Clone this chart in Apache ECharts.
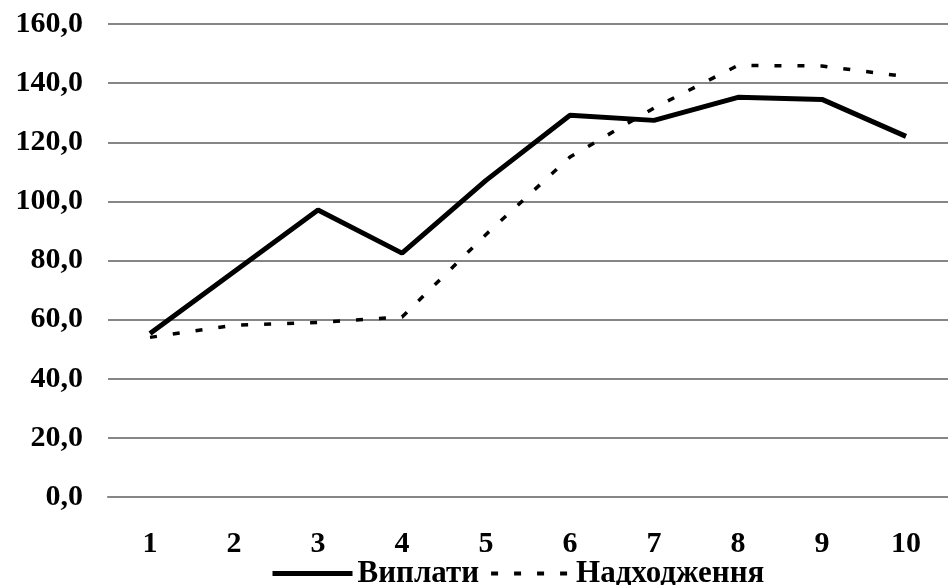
<!DOCTYPE html>
<html>
<head>
<meta charset="utf-8">
<script src="https://cdn.jsdelivr.net/npm/echarts@6/dist/echarts.min.js"></script>
<style>html,body{margin:0;padding:0;background:#fff}#c{width:948px;height:585px}</style>
</head>
<body>
<div id="c"></div>
<script>
var categories = ['1','2','3','4','5','6','7','8','9','10'];
var vyplaty = [55.3, 76.2, 97.1, 82.5, 107.1, 129.1, 127.4, 135.2, 134.5, 122.0];
var nadkhodzhennya = [54.0, 58.1, 59.0, 60.9, 88.8, 115.0, 131.6, 146.0, 145.8, 142.2];
var seriesNames = ['Виплати', 'Надходження'];

var font = 'Liberation Serif';
var chart = echarts.init(document.getElementById('c'));
chart.setOption({
  animation: false,
  backgroundColor: '#ffffff',
  grid: { left: 108, right: 0, top: 24, bottom: 88, containLabel: false },
  legend: {
    left: 270, top: 558, padding: 0,
    itemWidth: 80, itemHeight: 14, itemGap: 10,
    itemStyle: { opacity: 0 },
    textStyle: { fontFamily: font, fontWeight: 'bold', fontSize: 31, color: '#000', lineHeight: 30 },
    data: [
      { name: seriesNames[0], lineStyle: { width: 5, color: '#000' } },
      { name: seriesNames[1], lineStyle: { width: 4, color: '#000', type: [7, 16] } }
    ]
  },
  xAxis: {
    type: 'category', data: categories, boundaryGap: true,
    axisLine: { lineStyle: { color: '#868686', width: 2 } },
    axisTick: { show: false },
    axisLabel: { margin: 32, fontFamily: font, fontWeight: 'bold', fontSize: 30, color: '#000' }
  },
  yAxis: {
    type: 'value', min: 0, max: 160, interval: 20,
    axisLine: { show: false }, axisTick: { show: false },
    splitLine: { lineStyle: { color: '#868686', width: 2 } },
    axisLabel: {
      margin: 25, fontFamily: font, fontWeight: 'bold', fontSize: 30, color: '#000',
      formatter: function (v) { return v.toFixed(1).replace('.', ','); }
    }
  },
  series: [
    { name: seriesNames[0], type: 'line', data: vyplaty, symbol: 'none',
      lineStyle: { color: '#000', width: 5 }, itemStyle: { color: '#000' } },
    { name: seriesNames[1], type: 'line', data: nadkhodzhennya, symbol: 'none',
      lineStyle: { color: '#000', width: 3.5, type: [7, 16] }, itemStyle: { color: '#000' } }
  ]
});
</script>
</body>
</html>
